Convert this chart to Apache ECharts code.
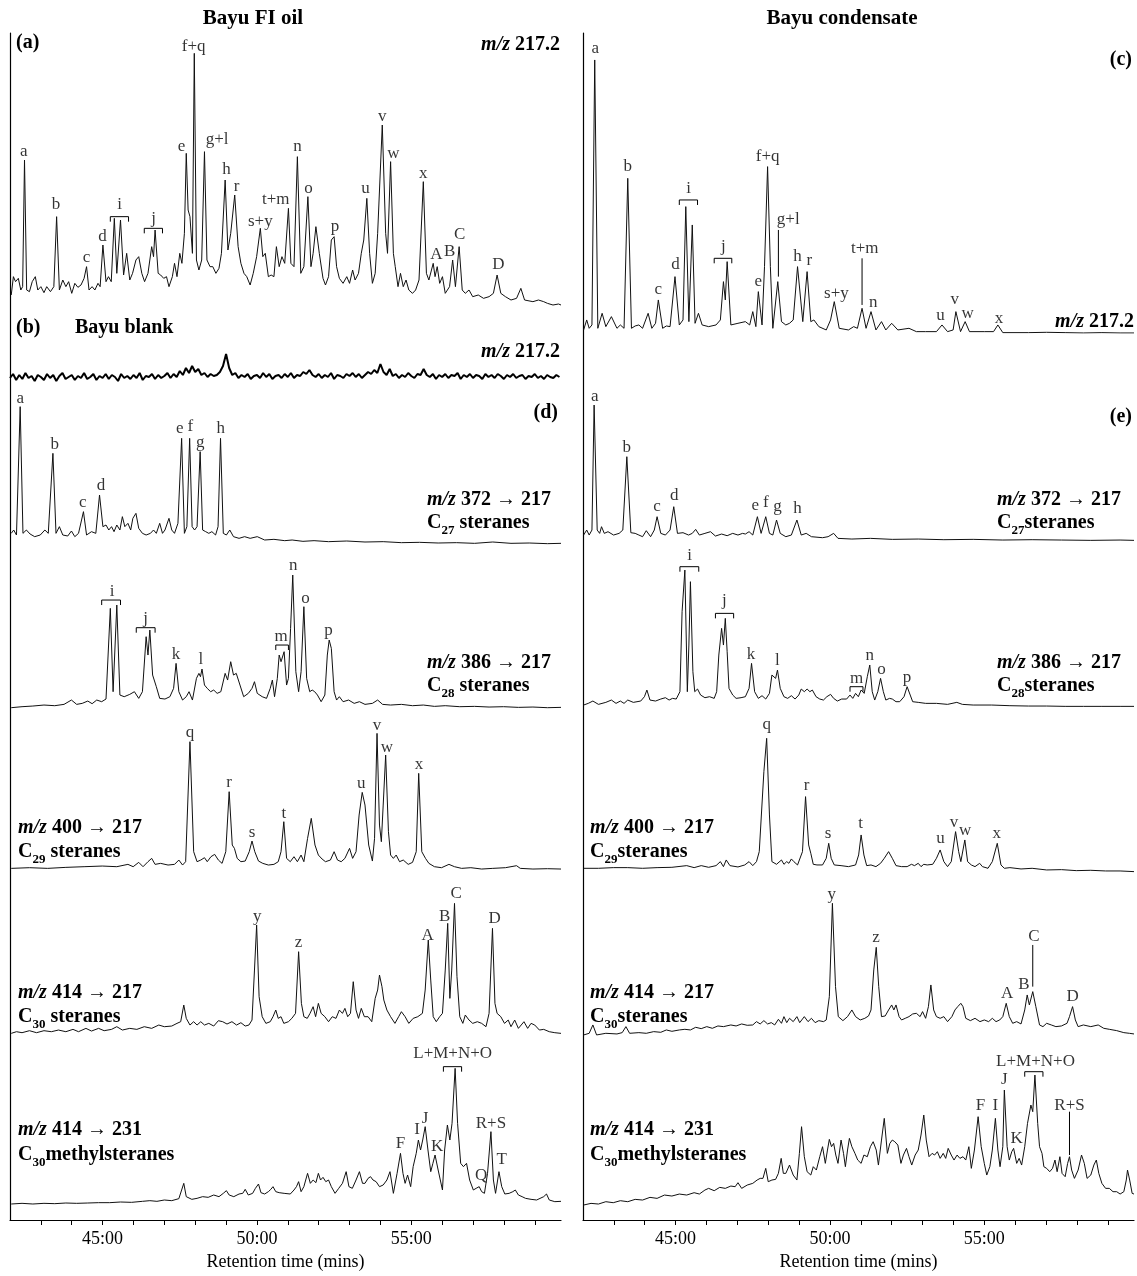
<!DOCTYPE html>
<html>
<head>
<meta charset="utf-8">
<script src="https://cdn.jsdelivr.net/npm/echarts@6/dist/echarts.min.js"></script>
<style>
  html, body { margin: 0; padding: 0; background: #fff; }
  #chart { width: 1137px; height: 1276px; }
</style>
</head>
<body>
<div id="chart"></div>
<script>
// Retention time axis (minutes)
const RT_MIN = 42;
const RT_MAX = 59.85;
const tickMinutes = [43, 44, 45, 46, 47, 48, 49, 50, 51, 52, 53, 54, 55, 56, 57, 58, 59];
const labelMinutes = [45, 50, 55];

// ---------- Bayu FI oil, m/z 217.2 ----------
const fiOil217 = [[42.04,45],[42.11,100],[42.18,85],[42.27,95],[42.35,60],[42.41,70],[42.47,450],[42.54,60],[42.63,55],[42.72,85],[42.82,100],[42.90,60],[43.00,70],[43.10,52],[43.19,70],[43.31,55],[43.42,70],[43.51,280],[43.60,60],[43.71,90],[43.81,70],[43.90,85],[44.00,50],[44.10,80],[44.20,68],[44.30,75],[44.40,95],[44.48,130],[44.56,60],[44.66,70],[44.75,60],[44.85,80],[44.92,70],[45.01,195],[45.11,85],[45.19,100],[45.28,85],[45.38,275],[45.46,110],[45.58,270],[45.68,105],[45.78,170],[45.88,90],[45.97,110],[46.08,150],[46.17,160],[46.27,110],[46.36,85],[46.47,110],[46.59,190],[46.65,160],[46.70,240],[46.80,110],[46.88,105],[46.98,95],[47.07,100],[47.15,70],[47.26,100],[47.33,140],[47.41,100],[47.50,170],[47.57,140],[47.65,230],[47.71,470],[47.77,300],[47.83,280],[47.91,170],[47.97,770],[48.04,150],[48.12,120],[48.21,150],[48.30,475],[48.38,150],[48.48,130],[48.57,130],[48.67,110],[48.77,125],[48.85,170],[48.97,390],[49.06,180],[49.15,230],[49.28,345],[49.39,190],[49.48,140],[49.58,110],[49.67,100],[49.78,75],[49.88,110],[49.99,160],[50.11,245],[50.19,160],[50.27,170],[50.37,100],[50.46,105],[50.55,100],[50.63,190],[50.72,130],[50.81,160],[50.90,140],[51.02,305],[51.10,140],[51.20,130],[51.31,460],[51.42,110],[51.52,130],[51.65,340],[51.75,130],[51.82,170],[51.91,250],[52.02,170],[52.14,95],[52.22,75],[52.32,100],[52.41,210],[52.50,220],[52.58,130],[52.67,95],[52.79,80],[52.91,100],[53.00,80],[53.10,120],[53.18,90],[53.29,110],[53.38,170],[53.46,210],[53.56,335],[53.65,170],[53.74,80],[53.83,110],[53.91,230],[54.06,555],[54.17,230],[54.23,170],[54.33,445],[54.42,170],[54.48,130],[54.57,70],[54.65,110],[54.74,70],[54.83,90],[54.92,60],[55.04,50],[55.14,60],[55.25,90],[55.39,385],[55.49,110],[55.57,90],[55.71,140],[55.77,100],[55.84,130],[55.92,80],[56.01,100],[56.10,50],[56.24,70],[56.34,150],[56.43,70],[56.55,190],[56.65,60],[56.75,50],[56.87,60],[56.99,40],[57.17,45],[57.34,35],[57.52,40],[57.66,50],[57.78,105],[57.90,50],[58.05,40],[58.23,30],[58.41,35],[58.55,65],[58.67,30],[58.94,25],[59.12,30],[59.29,25],[59.41,20],[59.59,15],[59.77,18],[59.85,15]];
const fiOil217Peaks = [['a',42.45,475],['b',43.49,315],['c',44.48,158],['d',45.00,220],['i',45.55,315],['j',46.65,275],['e',47.56,490],['f+q',47.95,790],['g+l',48.71,510],['h',49.01,420],['r',49.34,370],['s+y',50.11,265],['t+m',50.61,330],['n',51.31,490],['o',51.67,365],['p',52.53,250],['u',53.52,365],['v',54.06,580],['w',54.42,470],['x',55.39,410],['A',55.81,165],['B',56.24,175],['C',56.57,225],['D',57.82,135]];
const fiOil217Brackets = [[45.25,45.84,280],[46.35,46.94,245]];

// ---------- Bayu blank, m/z 217.2 (sampled every 0.1 min from 42.0) ----------
const blankStart = 42.0;
const blankStep = 0.1;
const blank217 = [
  12,16,10,15,11,17,12,14,9,15, 13,10,16,12,15,9,14,17,11,13,
  15,10,14,12,17,11,13,16,10,14, 12,16,11,15,13,9,16,12,14,11,
  15,12,17,10,14,13,16,11,15,12, 14,17,12,16,13,19,15,22,17,24,
  18,21,15,17,13,16,14,15,18,24, 36,22,15,17,12,15,13,16,11,14,
  15,12,17,13,16,11,14,15,12,16, 13,17,12,15,14,18,16,20,15,13,
  16,12,15,13,17,11,15,14,12,16, 14,17,13,16,12,15,18,16,20,17,
  26,18,15,21,14,16,12,15,13,17, 14,12,16,15,21,15,13,16,11,15,
  13,16,12,15,14,17,11,15,13,16, 12,15,14,11,16,13,15,12,16,14,
  11,15,13,16,12,14,15,11,14,13, 16,12,14,11,15,13,12,15,13
];

// ---------- Bayu FI oil, m/z 372 -> 217 (C27 steranes) ----------
const fiOil372 = [[42.04,35],[42.12,45],[42.21,30],[42.33,415],[42.42,35],[42.53,45],[42.65,33],[42.80,25],[42.98,30],[43.13,45],[43.24,35],[43.39,275],[43.49,35],[43.60,55],[43.71,30],[43.87,27],[43.99,42],[44.10,25],[44.22,35],[44.38,100],[44.48,30],[44.64,40],[44.78,35],[44.90,150],[45.01,55],[45.11,60],[45.20,45],[45.29,55],[45.37,40],[45.46,60],[45.56,45],[45.64,85],[45.72,55],[45.82,65],[45.91,45],[45.98,80],[46.08,95],[46.17,50],[46.29,35],[46.41,30],[46.55,35],[46.65,45],[46.74,35],[46.85,65],[46.94,35],[47.02,45],[47.15,80],[47.24,45],[47.33,35],[47.44,65],[47.56,320],[47.65,35],[47.73,55],[47.82,320],[47.90,55],[47.98,45],[48.06,55],[48.16,280],[48.24,45],[48.34,40],[48.44,35],[48.54,40],[48.66,30],[48.74,55],[48.82,320],[48.91,35],[49.01,30],[49.12,45],[49.24,25],[49.42,20],[49.60,25],[49.78,20],[50.01,25],[50.25,15],[50.55,17],[50.90,13],[51.14,15],[51.49,11],[51.85,13],[52.32,10],[52.91,12],[53.50,9],[54.09,10],[54.68,7],[55.27,8],[55.87,6],[56.46,7],[57.05,5],[57.64,9],[58.23,5],[58.82,6],[59.41,4],[59.85,5]];
const fiOil372Peaks = [['a',42.33,440],['b',43.45,300],['c',44.36,128],['d',44.95,178],['e',47.50,348],['f',47.84,355],['g',48.16,308],['h',48.83,348]];

// ---------- Bayu FI oil, m/z 386 -> 217 (C28 steranes) ----------
const fiOil386 = [[42.04,12],[42.39,15],[42.74,17],[43.10,20],[43.45,18],[43.75,22],[43.99,35],[44.16,22],[44.34,25],[44.52,32],[44.66,24],[44.81,35],[44.97,30],[45.11,38],[45.25,310],[45.34,60],[45.46,320],[45.56,50],[45.70,45],[45.88,52],[46.03,60],[46.17,40],[46.29,60],[46.41,225],[46.47,170],[46.53,245],[46.62,110],[46.74,75],[46.85,40],[47.02,38],[47.18,45],[47.30,70],[47.38,145],[47.47,60],[47.59,35],[47.71,45],[47.80,60],[47.91,35],[48.04,100],[48.12,115],[48.17,105],[48.22,128],[48.30,80],[48.39,70],[48.50,60],[48.60,65],[48.71,55],[48.83,60],[48.97,115],[49.05,95],[49.15,150],[49.24,110],[49.33,115],[49.45,80],[49.57,45],[49.72,55],[49.84,70],[49.92,90],[50.01,55],[50.17,45],[50.31,40],[50.43,70],[50.50,95],[50.57,45],[50.66,100],[50.72,170],[50.78,150],[50.88,180],[50.96,80],[51.02,100],[51.09,250],[51.16,410],[51.26,120],[51.35,60],[51.43,120],[51.52,315],[51.61,100],[51.71,60],[51.79,65],[51.87,60],[51.96,50],[52.08,30],[52.20,50],[52.28,170],[52.34,215],[52.41,190],[52.50,60],[52.58,35],[52.67,45],[52.79,30],[52.97,35],[53.15,25],[53.32,30],[53.50,22],[53.74,25],[53.91,35],[54.07,22],[54.33,20],[54.68,22],[55.04,18],[55.39,20],[55.75,16],[56.10,18],[56.57,15],[57.05,16],[57.52,14],[57.99,15],[58.47,13],[58.94,14],[59.41,12],[59.85,13]];
const fiOil386Peaks = [['i',45.31,360],['j',46.39,280],['k',47.38,172],['l',48.18,158],['m',50.78,225],['n',51.18,440],['o',51.57,340],['p',52.32,245]];
const fiOil386Brackets = [[44.97,45.58,335],[46.09,46.70,252],[50.61,51.02,200]];

// ---------- Bayu FI oil, m/z 400 -> 217 (C29 steranes) ----------
const fiOil400 = [[42.04,10],[42.63,12],[43.22,10],[43.81,13],[44.40,15],[44.99,17],[45.46,15],[45.82,22],[45.99,15],[46.17,28],[46.31,15],[46.47,30],[46.59,40],[46.70,22],[46.88,25],[47.12,20],[47.33,22],[47.47,35],[47.59,20],[47.69,30],[47.83,390],[47.95,60],[48.06,30],[48.18,35],[48.30,42],[48.39,30],[48.51,45],[48.63,52],[48.75,35],[48.87,25],[48.99,60],[49.10,240],[49.20,80],[49.27,70],[49.36,40],[49.48,30],[49.62,32],[49.75,60],[49.84,92],[49.93,60],[50.05,32],[50.19,25],[50.37,20],[50.55,22],[50.69,30],[50.78,60],[50.87,150],[50.96,40],[51.08,30],[51.20,45],[51.31,30],[51.43,50],[51.52,30],[51.64,100],[51.76,160],[51.88,80],[51.99,50],[52.11,38],[52.22,30],[52.38,35],[52.50,60],[52.61,35],[52.73,30],[52.85,40],[53.00,70],[53.10,40],[53.21,60],[53.31,170],[53.41,238],[53.50,200],[53.62,80],[53.74,32],[53.81,100],[53.89,415],[53.97,140],[54.03,90],[54.09,200],[54.17,350],[54.26,120],[54.33,50],[54.42,40],[54.51,50],[54.62,30],[54.74,35],[54.90,22],[55.04,28],[55.16,60],[55.24,295],[55.34,60],[55.46,40],[55.57,25],[55.75,15],[55.98,12],[56.22,22],[56.40,15],[56.63,10],[56.93,12],[57.28,8],[57.64,10],[58.05,12],[58.41,18],[58.53,10],[58.94,8],[59.41,9],[59.85,8]];
const fiOil400Peaks = [['q',47.83,418],['r',49.10,268],['s',49.84,118],['t',50.87,175],['u',53.38,265],['v',53.89,440],['w',54.21,372],['x',55.25,322]];

// ---------- Bayu FI oil, m/z 414 -> 217 (C30 steranes) ----------
const fiOil414 = [[42.04,10],[42.21,15],[42.39,12],[42.63,18],[42.86,12],[43.10,18],[43.34,15],[43.57,20],[43.81,15],[44.04,22],[44.22,15],[44.46,25],[44.64,17],[44.87,25],[45.05,18],[45.29,22],[45.46,30],[45.64,20],[45.88,25],[46.11,22],[46.35,30],[46.59,25],[46.82,35],[47.00,30],[47.24,32],[47.41,40],[47.53,45],[47.63,95],[47.71,55],[47.83,35],[47.95,45],[48.06,35],[48.18,45],[48.30,35],[48.44,40],[48.60,32],[48.75,48],[48.89,45],[49.03,38],[49.19,45],[49.34,35],[49.48,42],[49.62,32],[49.74,35],[49.84,50],[49.92,200],[49.99,335],[50.07,120],[50.17,60],[50.29,40],[50.43,45],[50.52,60],[50.61,80],[50.69,55],[50.78,60],[50.87,40],[51.02,45],[51.13,55],[51.25,70],[51.35,255],[51.44,100],[51.52,60],[51.63,55],[51.72,70],[51.82,90],[51.90,60],[51.99,100],[52.08,70],[52.20,60],[52.32,45],[52.44,60],[52.56,55],[52.67,80],[52.77,70],[52.85,85],[52.94,60],[53.03,70],[53.12,165],[53.21,80],[53.29,55],[53.38,85],[53.48,60],[53.60,60],[53.72,45],[53.83,115],[53.91,140],[53.97,185],[54.05,150],[54.11,110],[54.21,80],[54.33,60],[54.47,40],[54.59,60],[54.68,75],[54.80,60],[54.92,40],[55.06,55],[55.21,60],[55.36,70],[55.45,140],[55.55,290],[55.63,170],[55.71,60],[55.81,45],[55.92,60],[56.01,70],[56.10,200],[56.18,340],[56.25,115],[56.31,200],[56.40,400],[56.48,180],[56.57,60],[56.67,40],[56.75,65],[56.87,50],[56.99,40],[57.14,45],[57.28,40],[57.42,30],[57.52,70],[57.63,325],[57.71,100],[57.78,70],[57.90,60],[58.02,40],[58.14,50],[58.23,30],[58.35,50],[58.47,25],[58.65,45],[58.77,25],[58.88,40],[59.00,35],[59.15,20],[59.29,22],[59.47,15],[59.65,12],[59.85,10]];
const fiOil414Peaks = [['y',50.01,360],['z',51.35,282],['A',55.53,305],['B',56.08,362],['C',56.45,430],['D',57.70,355]];

// ---------- Bayu FI oil, m/z 414 -> 231 (C30 methylsteranes) ----------
const fiOil414m = [[42.04,54],[42.39,56],[42.74,54],[43.10,56],[43.45,55],[43.81,57],[44.16,56],[44.52,57],[44.87,58],[45.23,58],[45.58,60],[45.94,59],[46.29,62],[46.53,64],[46.76,62],[47.00,66],[47.24,64],[47.47,70],[47.56,96],[47.63,116],[47.71,76],[47.89,68],[48.06,71],[48.24,76],[48.42,74],[48.60,81],[48.77,76],[48.91,86],[49.01,94],[49.10,81],[49.25,76],[49.42,84],[49.54,86],[49.62,98],[49.72,81],[49.86,86],[49.95,101],[50.05,114],[50.13,88],[50.25,84],[50.37,91],[50.45,98],[50.52,106],[50.61,91],[50.72,88],[50.88,86],[51.08,84],[51.20,96],[51.28,106],[51.35,121],[51.43,91],[51.52,106],[51.64,146],[51.73,116],[51.82,126],[51.91,118],[51.99,146],[52.06,126],[52.14,134],[52.23,121],[52.32,126],[52.41,106],[52.53,86],[52.65,101],[52.77,116],[52.89,151],[52.98,106],[53.09,101],[53.21,126],[53.32,151],[53.42,116],[53.50,116],[53.60,131],[53.68,136],[53.76,126],[53.86,121],[53.97,106],[54.09,111],[54.21,126],[54.31,151],[54.42,86],[54.54,146],[54.65,206],[54.73,146],[54.80,116],[54.88,141],[54.98,106],[55.06,166],[55.16,206],[55.23,246],[55.30,216],[55.37,246],[55.45,286],[55.54,216],[55.63,151],[55.70,176],[55.77,201],[55.87,156],[55.94,126],[56.01,96],[56.08,216],[56.17,291],[56.25,246],[56.32,296],[56.42,461],[56.50,296],[56.60,176],[56.69,166],[56.79,176],[56.89,126],[57.01,96],[57.10,101],[57.20,106],[57.28,91],[57.37,86],[57.47,146],[57.58,271],[57.66,126],[57.73,86],[57.84,151],[57.93,106],[58.03,84],[58.17,86],[58.29,91],[58.37,96],[58.47,81],[58.59,76],[58.70,71],[58.88,68],[59.06,66],[59.29,76],[59.38,84],[59.47,66],[59.65,61],[59.85,62]];
const fiOil414mPeaks = [['L+M+N+O',56.34,506],['F',54.65,236],['I',55.19,278],['J',55.45,310],['K',55.84,226],['Q',57.26,138],['R+S',57.58,294],['T',57.93,188]];
const fiOil414mBrackets = [[56.04,56.63,466]];

// ---------- Bayu condensate, m/z 217.2 ----------
const cond217 = [[42.02,10],[42.12,40],[42.20,15],[42.29,25],[42.38,820],[42.48,15],[42.62,60],[42.74,20],[42.92,50],[43.10,15],[43.21,25],[43.33,15],[43.45,465],[43.57,15],[43.69,22],[43.81,25],[43.93,15],[44.11,60],[44.23,15],[44.35,30],[44.44,100],[44.58,15],[44.70,22],[44.82,20],[44.98,170],[45.12,25],[45.24,40],[45.33,380],[45.43,35],[45.54,325],[45.63,30],[45.74,60],[45.86,25],[46.07,20],[46.31,25],[46.45,40],[46.55,155],[46.61,100],[46.67,215],[46.79,25],[47.02,30],[47.26,35],[47.40,25],[47.50,65],[47.60,20],[47.68,125],[47.80,25],[47.88,200],[47.98,500],[48.07,200],[48.15,15],[48.31,155],[48.43,35],[48.57,25],[48.69,30],[48.81,40],[48.95,200],[49.12,35],[49.26,185],[49.38,35],[49.48,40],[49.64,20],[49.88,10],[50.02,40],[50.14,95],[50.30,15],[50.60,10],[50.77,20],[50.89,15],[51.04,75],[51.17,15],[51.33,65],[51.49,10],[51.67,35],[51.81,10],[52.00,30],[52.20,10],[52.56,15],[52.80,5],[53.10,5],[53.45,5],[53.63,25],[53.81,5],[53.99,10],[54.08,65],[54.23,5],[54.38,35],[54.52,5],[55.00,5],[55.30,5],[55.44,25],[55.60,2],[56.43,2],[57.02,3],[57.62,2],[58.21,1],[58.81,2],[59.40,1],[59.85,1]];
const cond217Peaks = [['a',42.40,855],['b',43.45,500],['c',44.44,132],['d',45.00,205],['i',45.42,435],['j',46.55,260],['e',47.68,155],['f+q',47.98,530],['g+l',48.65,340],['h',48.95,230],['r',49.33,218],['s+y',50.21,120],['t+m',51.13,255],['n',51.40,92],['u',53.58,52],['v',54.04,100],['w',54.46,60],['x',55.48,45]];
const cond217Brackets = [[45.12,45.71,400],[46.25,46.82,225]];
const cond217Leaders = [[48.33,310,170],[51.04,225,85]];

// ---------- Bayu condensate, m/z 372 -> 217 (C27 steranes) ----------
const cond372 = [[42.02,20],[42.12,35],[42.20,20],[42.29,35],[42.36,410],[42.46,35],[42.54,25],[42.60,45],[42.69,25],[42.81,30],[42.99,20],[43.17,25],[43.29,35],[43.42,255],[43.55,27],[43.69,25],[43.81,20],[43.93,15],[44.05,33],[44.19,15],[44.31,35],[44.40,75],[44.52,25],[44.67,20],[44.82,35],[44.94,105],[45.06,25],[45.24,27],[45.42,20],[45.54,25],[45.65,37],[45.77,20],[45.95,25],[46.13,30],[46.29,17],[46.49,23],[46.67,18],[46.85,25],[47.02,20],[47.17,25],[47.26,23],[47.38,30],[47.50,20],[47.65,75],[47.77,25],[47.92,75],[48.04,25],[48.15,20],[48.27,65],[48.39,25],[48.57,15],[48.75,20],[48.93,65],[49.07,20],[49.23,25],[49.40,15],[49.76,12],[49.94,15],[50.12,25],[50.26,10],[50.71,8],[51.31,10],[52.02,7],[52.86,8],[53.69,6],[54.64,7],[55.60,5],[56.55,6],[57.50,5],[58.45,4],[59.40,5],[59.85,4]];
const cond372Peaks = [['a',42.38,435],['b',43.42,283],['c',44.40,107],['d',44.96,140],['e',47.58,110],['f',47.92,117],['g',48.30,105],['h',48.95,100]];

// ---------- Bayu condensate, m/z 386 -> 217 (C28 steranes) ----------
const cond386 = [[42.02,5],[42.17,10],[42.32,17],[42.50,7],[42.74,13],[42.92,20],[43.07,10],[43.21,17],[43.33,10],[43.45,20],[43.63,13],[43.87,17],[43.99,30],[44.07,50],[44.17,20],[44.35,17],[44.52,23],[44.67,27],[44.79,20],[44.90,25],[45.02,23],[45.14,45],[45.21,285],[45.30,410],[45.38,45],[45.43,185],[45.48,375],[45.56,105],[45.62,45],[45.71,53],[45.81,35],[45.95,27],[46.10,30],[46.25,25],[46.33,45],[46.40,155],[46.49,235],[46.55,185],[46.61,265],[46.67,165],[46.73,55],[46.85,35],[46.96,25],[47.12,27],[47.26,30],[47.38,55],[47.46,130],[47.56,45],[47.68,25],[47.80,33],[47.92,23],[48.04,40],[48.12,95],[48.18,100],[48.24,85],[48.30,110],[48.39,55],[48.51,30],[48.63,25],[48.75,33],[48.87,23],[48.99,35],[49.07,53],[49.17,45],[49.26,53],[49.35,45],[49.43,50],[49.55,30],[49.67,23],[49.79,20],[49.90,30],[50.02,37],[50.12,25],[50.24,17],[50.38,23],[50.54,23],[50.65,35],[50.74,25],[50.83,40],[50.92,30],[51.01,50],[51.11,40],[51.21,90],[51.29,125],[51.37,45],[51.45,20],[51.55,45],[51.64,85],[51.73,45],[51.81,20],[51.93,25],[52.02,23],[52.14,15],[52.26,15],[52.40,30],[52.50,60],[52.60,35],[52.68,15],[52.86,13],[53.10,10],[53.45,10],[53.81,7],[54.11,13],[54.29,7],[54.64,5],[55.24,5],[55.83,3],[56.43,2],[57.02,2],[57.62,1],[58.21,1],[58.81,1],[59.40,1],[59.85,1]];
const cond386Peaks = [['i',45.45,455],['j',46.58,318],['k',47.44,158],['l',48.30,140],['m',50.86,85],['n',51.29,155],['o',51.67,112],['p',52.50,88]];
const cond386Brackets = [[45.14,45.75,420],[46.29,46.88,280],[50.65,51.07,60]];

// ---------- Bayu condensate, m/z 400 -> 217 (C29 steranes) ----------
const cond400 = [[42.02,15],[42.50,15],[42.98,17],[43.45,17],[43.93,15],[44.40,17],[44.88,18],[45.36,23],[45.60,17],[45.83,23],[46.07,18],[46.31,23],[46.45,35],[46.55,20],[46.64,40],[46.76,23],[47.02,19],[47.24,25],[47.38,35],[47.50,23],[47.62,35],[47.71,65],[47.86,305],[47.95,405],[48.04,175],[48.12,35],[48.27,27],[48.43,40],[48.51,27],[48.60,35],[48.67,30],[48.75,43],[48.83,35],[48.95,25],[49.11,65],[49.21,230],[49.31,85],[49.38,60],[49.46,27],[49.58,25],[49.76,25],[49.88,45],[49.96,90],[50.04,45],[50.14,25],[50.36,23],[50.60,20],[50.83,25],[50.93,55],[51.01,115],[51.10,55],[51.19,23],[51.33,25],[51.49,20],[51.64,30],[51.76,45],[51.90,65],[52.02,45],[52.14,23],[52.32,20],[52.50,20],[52.64,27],[52.74,23],[52.86,30],[52.95,20],[53.04,27],[53.15,25],[53.33,27],[53.45,45],[53.57,70],[53.69,35],[53.81,20],[53.93,35],[54.07,125],[54.17,65],[54.24,35],[54.37,100],[54.46,35],[54.58,25],[54.70,20],[54.85,30],[54.94,20],[55.12,15],[55.26,35],[55.42,90],[55.54,25],[55.65,15],[55.83,17],[56.19,13],[56.55,15],[57.02,10],[57.50,11],[57.98,8],[58.45,9],[58.93,7],[59.40,7],[59.85,5]];
const cond400Peaks = [['q',47.95,445],['r',49.24,262],['s',49.94,118],['t',50.99,150],['u',53.58,105],['v',54.02,152],['w',54.38,128],['x',55.40,118]];

// ---------- Bayu condensate, m/z 414 -> 217 (C30 steranes) ----------
const cond414 = [[42.02,10],[42.20,15],[42.32,40],[42.44,10],[42.74,15],[43.10,13],[43.27,17],[43.39,35],[43.51,15],[43.81,17],[44.05,15],[44.29,20],[44.52,18],[44.70,25],[44.88,21],[45.12,25],[45.30,27],[45.48,25],[45.65,33],[45.83,29],[46.01,35],[46.19,30],[46.37,37],[46.55,35],[46.79,40],[46.96,37],[47.14,43],[47.32,39],[47.50,40],[47.62,50],[47.74,43],[47.86,53],[47.98,43],[48.10,47],[48.21,40],[48.33,57],[48.43,45],[48.51,65],[48.60,47],[48.69,60],[48.81,50],[48.93,65],[49.02,47],[49.17,65],[49.29,50],[49.40,60],[49.52,47],[49.64,53],[49.79,50],[49.88,55],[49.98,125],[50.08,405],[50.18,155],[50.27,65],[50.42,53],[50.57,65],[50.71,85],[50.83,65],[50.98,55],[51.13,60],[51.25,67],[51.33,85],[51.42,205],[51.50,273],[51.58,155],[51.67,65],[51.79,67],[51.90,85],[52.00,100],[52.07,85],[52.14,100],[52.24,65],[52.32,55],[52.44,60],[52.56,65],[52.68,73],[52.80,75],[52.92,65],[53.00,80],[53.10,60],[53.19,95],[53.27,160],[53.36,85],[53.45,65],[53.57,60],[53.69,65],[53.81,50],[53.95,65],[54.05,85],[54.14,95],[54.24,105],[54.31,95],[54.40,60],[54.55,53],[54.70,60],[54.86,50],[55.00,55],[55.14,50],[55.26,60],[55.38,50],[55.50,55],[55.60,65],[55.71,105],[55.81,65],[55.92,45],[56.05,50],[56.19,43],[56.31,85],[56.39,130],[56.46,100],[56.57,140],[56.67,95],[56.79,40],[56.90,35],[57.02,45],[57.17,40],[57.32,35],[57.50,37],[57.68,45],[57.76,65],[57.86,95],[57.95,55],[58.04,35],[58.21,40],[58.45,35],[58.69,40],[58.87,30],[59.05,27],[59.29,23],[59.52,17],[59.70,15],[59.85,13]];
const cond414Peaks = [['y',50.06,430],['z',51.49,302],['A',55.74,135],['B',56.28,160],['C',56.61,305],['D',57.86,125]];
const cond414Leaders = [[56.57,280,155]];

// ---------- Bayu condensate, m/z 414 -> 231 (C30 methylsteranes) ----------
const cond414m = [[42.02,53],[42.26,58],[42.50,56],[42.74,63],[42.98,60],[43.21,66],[43.45,63],[43.69,70],[43.93,68],[44.17,76],[44.40,73],[44.64,83],[44.88,80],[45.12,86],[45.36,83],[45.60,90],[45.77,86],[45.95,98],[46.07,103],[46.25,96],[46.43,106],[46.61,103],[46.79,110],[46.93,108],[47.02,120],[47.14,103],[47.32,113],[47.50,118],[47.64,128],[47.74,133],[47.83,133],[47.92,163],[48.00,123],[48.12,128],[48.24,130],[48.33,148],[48.42,193],[48.49,148],[48.57,148],[48.69,173],[48.81,143],[48.93,128],[49.01,208],[49.08,288],[49.17,198],[49.26,153],[49.38,143],[49.46,168],[49.56,158],[49.67,198],[49.76,228],[49.85,178],[49.92,218],[49.98,250],[50.05,228],[50.12,238],[50.19,203],[50.26,178],[50.36,248],[50.44,208],[50.50,168],[50.57,218],[50.63,253],[50.71,228],[50.81,208],[50.90,188],[51.01,178],[51.10,203],[51.21,198],[51.31,228],[51.40,243],[51.50,218],[51.57,173],[51.67,248],[51.76,313],[51.86,208],[51.94,238],[52.02,248],[52.10,243],[52.20,233],[52.30,178],[52.38,203],[52.48,223],[52.56,198],[52.65,173],[52.76,203],[52.86,218],[52.95,263],[53.04,323],[53.12,248],[53.21,198],[53.31,208],[53.39,203],[53.48,213],[53.57,193],[53.67,208],[53.75,193],[53.83,223],[53.93,203],[54.02,188],[54.12,203],[54.21,193],[54.31,198],[54.40,188],[54.50,228],[54.58,163],[54.68,218],[54.80,318],[54.90,228],[55.00,178],[55.08,143],[55.18,168],[55.26,218],[55.36,313],[55.44,218],[55.51,168],[55.60,228],[55.65,398],[55.74,228],[55.81,188],[55.89,213],[55.95,223],[56.05,178],[56.13,193],[56.21,173],[56.31,228],[56.40,298],[56.51,353],[56.57,333],[56.64,443],[56.73,298],[56.79,228],[56.87,208],[56.93,168],[57.02,163],[57.12,153],[57.21,163],[57.29,188],[57.36,153],[57.45,198],[57.52,148],[57.62,138],[57.70,178],[57.76,198],[57.83,158],[57.92,133],[58.04,158],[58.15,203],[58.24,178],[58.33,133],[58.45,143],[58.55,173],[58.63,188],[58.71,148],[58.81,118],[58.93,103],[59.05,103],[59.17,93],[59.29,93],[59.40,86],[59.52,93],[59.60,128],[59.64,158],[59.71,128],[59.79,88],[59.85,86]];
const cond414mPeaks = [['L+M+N+O',56.66,483],['J',55.65,430],['F',54.88,353],['I',55.36,353],['K',56.05,253],['R+S',57.76,353]];
const cond414mBrackets = [[56.31,56.90,453]];
const cond414mLeaders = [[57.76,333,203]];

// ---------- layout ----------
const SERIF = '"Liberation Serif", "DejaVu Serif", serif';
const INK = '#111';
const COLS = [{ left: 10, width: 551 }, { left: 583, width: 551 }];
const FRAME_TOP = 33, AXIS_Y = 1222;

const blankSeries = blank217.map((v, i) => [+(blankStart + i * blankStep).toFixed(2), v]);

// col, bottom pixel of each trace, y-range
const panels = [
  { col: 0, bottom: 310,    yMax: 830, data: fiOil217,  peaks: fiOil217Peaks,  brackets: fiOil217Brackets },
  { col: 0, bottom: 390,    yMax: 150, data: blankSeries, scale: 1, lineWidth: 2 },
  { col: 0, bottom: 545,    yMax: 480, data: fiOil372,  peaks: fiOil372Peaks },
  { col: 0, bottom: 711.7,  yMax: 470, data: fiOil386,  peaks: fiOil386Peaks,  brackets: fiOil386Brackets },
  { col: 0, bottom: 871.7,  yMax: 470, data: fiOil400,  peaks: fiOil400Peaks },
  { col: 0, bottom: 1036.7, yMax: 470, data: fiOil414,  peaks: fiOil414Peaks },
  { col: 0, bottom: 1222,   yMax: 530, data: fiOil414m, peaks: fiOil414mPeaks, brackets: fiOil414mBrackets },
  { col: 1, bottom: 333.3,  yMax: 880, data: cond217,   peaks: cond217Peaks,   brackets: cond217Brackets, leaders: cond217Leaders },
  { col: 1, bottom: 541.7,  yMax: 470, data: cond372,   peaks: cond372Peaks },
  { col: 1, bottom: 706.7,  yMax: 480, data: cond386,   peaks: cond386Peaks,   brackets: cond386Brackets },
  { col: 1, bottom: 873.3,  yMax: 470, data: cond400,   peaks: cond400Peaks },
  { col: 1, bottom: 1038.3, yMax: 460, data: cond414,   peaks: cond414Peaks,   leaders: cond414Leaders },
  { col: 1, bottom: 1222.7, yMax: 520, data: cond414m,  peaks: cond414mPeaks,  brackets: cond414mBrackets, leaders: cond414mLeaders }
];

const grid = [], xAxis = [], yAxis = [], series = [];

// column frames: left axis line and the retention-time axis
COLS.forEach((c, i) => {
  grid.push({ left: c.left, width: c.width, top: FRAME_TOP, height: AXIS_Y - FRAME_TOP });
  xAxis.push({
    gridIndex: i, type: 'value', min: RT_MIN, max: RT_MAX,
    axisLine: { show: true, lineStyle: { color: '#000', width: 1.2 } },
    axisTick: { show: true, length: 5, inside: false, customValues: tickMinutes, lineStyle: { color: '#000', width: 1 } },
    axisLabel: {
      show: true, customValues: labelMinutes, margin: 10,
      formatter: v => v + ':00', fontFamily: SERIF, fontSize: 18, color: '#000'
    },
    splitLine: { show: false },
    name: 'Retention time (mins)', nameLocation: 'middle', nameGap: 33,
    nameTextStyle: { fontFamily: SERIF, fontSize: 18, color: '#000' }
  });
  yAxis.push({
    gridIndex: i, type: 'value', min: 0, max: 1,
    axisLine: { show: true, onZero: false, lineStyle: { color: '#000', width: 1.2 } },
    axisTick: { show: false }, axisLabel: { show: false }, splitLine: { show: false }
  });
});

function bracketItem(params, api) {
  const a = api.coord([api.value(0), api.value(2)]);
  const b = api.coord([api.value(1), api.value(2)]);
  return {
    type: 'polyline',
    shape: { points: [[a[0], a[1] + 5], a, b, [b[0], b[1] + 5]] },
    style: { stroke: '#000', lineWidth: 1, fill: null }
  };
}
function leaderItem(params, api) {
  const a = api.coord([api.value(0), api.value(1)]);
  const b = api.coord([api.value(0), api.value(2)]);
  return {
    type: 'line',
    shape: { x1: a[0], y1: a[1], x2: b[0], y2: b[1] },
    style: { stroke: '#000', lineWidth: 1 }
  };
}

panels.forEach((p, k) => {
  const gi = k + 2;
  const col = COLS[p.col];
  const pxPerUnit = p.scale || (1 / 3);
  const h = p.yMax * pxPerUnit;
  grid.push({ left: col.left, width: col.width, top: p.bottom - h, height: h });
  xAxis.push({ gridIndex: gi, type: 'value', min: RT_MIN, max: RT_MAX, show: false });
  yAxis.push({ gridIndex: gi, type: 'value', min: 0, max: p.yMax, show: false });

  series.push({
    type: 'line', xAxisIndex: gi, yAxisIndex: gi, data: p.data,
    showSymbol: false, silent: true, animation: false,
    lineStyle: { color: p.lineWidth ? '#000' : INK, width: p.lineWidth || 1 }
  });
  if (p.peaks) {
    series.push({
      type: 'scatter', xAxisIndex: gi, yAxisIndex: gi, silent: true, animation: false,
      symbolSize: 1, itemStyle: { color: 'rgba(0,0,0,0)' },
      data: p.peaks.map(d => ({ name: d[0], value: [d[1], d[2]] })),
      label: { show: true, position: 'inside', formatter: '{b}', fontFamily: SERIF, fontSize: 17, color: '#000' }
    });
  }
  if (p.brackets) {
    series.push({ type: 'custom', xAxisIndex: gi, yAxisIndex: gi, silent: true, animation: false,
      renderItem: bracketItem, data: p.brackets });
  }
  if (p.leaders) {
    series.push({ type: 'custom', xAxisIndex: gi, yAxisIndex: gi, silent: true, animation: false,
      renderItem: leaderItem, data: p.leaders });
  }
});

// ---------- text annotations ----------
const rich = {
  i: { fontFamily: SERIF, fontSize: 20, fontWeight: 'bold', fontStyle: 'italic', lineHeight: 28, verticalAlign: 'middle' },
  b: { fontFamily: SERIF, fontSize: 20, fontWeight: 'bold', lineHeight: 28, verticalAlign: 'middle' },
  s: { fontFamily: SERIF, fontSize: 13, fontWeight: 'bold', lineHeight: 14, verticalAlign: 'bottom' }
};
function txt(x, y, text, align, extra) {
  return {
    type: 'text', x: x, y: y, silent: true,
    style: Object.assign({
      text: text, rich: rich, align: align || 'left', verticalAlign: 'middle',
      fontFamily: SERIF, fontSize: 20, fontWeight: 'bold', fill: '#000'
    }, extra || {})
  };
}
const graphic = [
  txt(253, 19, 'Bayu FI oil', 'center', { fontSize: 21 }),
  txt(842, 19, 'Bayu condensate', 'center', { fontSize: 21 }),
  txt(16, 43, '(a)'),
  txt(560, 45, '{i|m/z} {b|217.2}', 'right'),
  txt(16, 328, '(b)'),
  txt(75, 328, 'Bayu blank'),
  txt(560, 352, '{i|m/z} {b|217.2}', 'right'),
  txt(558, 413, '(d)', 'right'),
  txt(427, 500, '{i|m/z} {b|372 → 217}'),
  txt(427, 523, '{b|C}{s|27}{b| steranes}'),
  txt(427, 663, '{i|m/z} {b|386 → 217}'),
  txt(427, 686, '{b|C}{s|28}{b| steranes}'),
  txt(18, 828, '{i|m/z} {b|400 → 217}'),
  txt(18, 852, '{b|C}{s|29}{b| steranes}'),
  txt(18, 993, '{i|m/z} {b|414 → 217}'),
  txt(18, 1017, '{b|C}{s|30}{b| steranes}'),
  txt(18, 1130, '{i|m/z} {b|414 → 231}'),
  txt(18, 1155, '{b|C}{s|30}{b|methylsteranes}'),
  txt(1132, 60, '(c)', 'right'),
  txt(1134, 322, '{i|m/z} {b|217.2}', 'right'),
  txt(1132, 417, '(e)', 'right'),
  txt(997, 500, '{i|m/z} {b|372 → 217}'),
  txt(997, 523, '{b|C}{s|27}{b|steranes}'),
  txt(997, 663, '{i|m/z} {b|386 → 217}'),
  txt(997, 686, '{b|C}{s|28}{b|steranes}'),
  txt(590, 828, '{i|m/z} {b|400 → 217}'),
  txt(590, 852, '{b|C}{s|29}{b|steranes}'),
  txt(590, 993, '{i|m/z} {b|414 → 217}'),
  txt(590, 1017, '{b|C}{s|30}{b|steranes}'),
  txt(590, 1130, '{i|m/z} {b|414 → 231}'),
  txt(590, 1155, '{b|C}{s|30}{b|methylsteranes}')
];

const chart = echarts.init(document.getElementById('chart'), null, { renderer: 'canvas' });
chart.setOption({
  animation: false,
  backgroundColor: '#fff',
  grid: grid, xAxis: xAxis, yAxis: yAxis, series: series, graphic: graphic
});
</script>
</body>
</html>
